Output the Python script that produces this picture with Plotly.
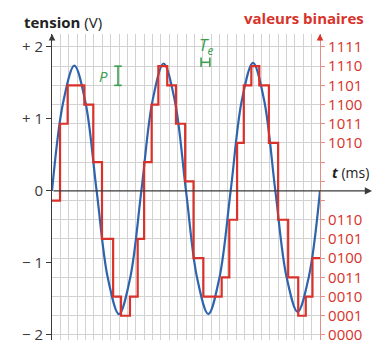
import plotly.graph_objects as go

# ---- data ----
# time axis in grid-column units (sampling grid), 3 periods over 32 columns
sine_t = [0, 1.33, 2.67, 4.0, 5.33, 6.67, 8.0, 9.33,
          10.67, 12.0, 13.33, 14.67, 16.0, 17.33, 18.67, 20.0,
          21.33, 22.67, 24.0, 25.33, 26.67, 28.0, 29.33, 30.67, 32.0]
sine_v = [0, 1.23, 1.74, 1.23, 0, -1.21, -1.71, -1.21,
          0, 1.25, 1.77, 1.25, 0, -1.21, -1.71, -1.2,
          0, 1.26, 1.78, 1.26, 0, -1.19, -1.68, -1.19, 0]

step_edges = [0, 0.96, 1.87, 3.86, 4.93, 5.97, 7.3, 8.24, 9.31, 10.23,
              11.0, 11.9, 12.7, 13.76, 14.8, 15.9, 16.9, 18.07, 20.26, 21.17,
              22.1, 22.9, 23.8, 24.75, 25.9, 27.0, 28.2, 29.4, 30.3, 31.1, 32]
step_codes = [7, 11, 13, 12, 9, 5, 2, 1, 2, 5,
              9, 12, 14, 13, 11, 8, 4, 2, 3, 6,
              10, 13, 14, 13, 10, 6, 3, 1, 2, 4]

left_tickvals = [-2, -1, 0, 1, 2]
left_ticktext = ["− 2", "− 1", "0", "+ 1", "+ 2"]

code_vals = list(range(16))
code_text = ["0000", "0001", "0010", "0011", "0100", "0101", "0110", "",
             "", "", "1010", "1011", "1100", "1101", "1110", "1111"]

RED = "#d8322a"
BLUE = "#2f64ad"
GREEN = "#3a9e4c"
GRID = "#d2d2d2"
DARK = "#3a3a3a"
FONT = "Open Sans"

VMIN, VMAX = -2.07, 2.18
# code k <-> voltage -2 + 4k/15
CMIN, CMAX = (VMIN + 2) * 3.75, (VMAX + 2) * 3.75

fig = go.Figure()

fig.add_trace(go.Scatter(
    x=sine_t, y=sine_v, mode="lines",
    line=dict(color=BLUE, width=2.2, shape="spline", smoothing=1.0),
    yaxis="y", hoverinfo="skip"))

fig.add_trace(go.Scatter(
    x=step_edges, y=step_codes + [step_codes[-1]], mode="lines",
    line=dict(color=RED, width=2.2, shape="hv"),
    yaxis="y2", hoverinfo="skip"))

fig.update_layout(
    width=384, height=345,
    margin=dict(l=52, r=64, t=34, b=1),
    paper_bgcolor="white", plot_bgcolor="white",
    showlegend=False,
    font=dict(family=FONT, size=14, color=DARK),
    xaxis=dict(range=[0, 32], showgrid=True, gridcolor=GRID, gridwidth=1,
               dtick=1, tick0=0, showticklabels=False, ticks="",
               zeroline=False, showline=False, fixedrange=True),
    yaxis=dict(range=[VMIN, VMAX], tickvals=left_tickvals, ticktext=left_ticktext,
               showgrid=False, zeroline=False, showline=True, linecolor=DARK,
               linewidth=1, ticks="outside", ticklen=5, tickcolor=DARK,
               ticklabeloverflow="allow",
               tickfont=dict(family=FONT, size=15, color=DARK)),
    yaxis2=dict(range=[CMIN, CMAX], overlaying="y", side="right",
                tickvals=code_vals, ticktext=code_text,
                showgrid=True, gridcolor=GRID, gridwidth=1,
                zeroline=False, showline=True, linecolor="#e38d86", linewidth=1.2,
                ticks="outside", ticklen=4, tickcolor="#e38d86",
                ticklabeloverflow="allow",
                tickfont=dict(family=FONT, size=15, color=RED)),
)

# time axis line with arrow (from left axis to beyond right axis)
fig.add_annotation(xref="paper", yref="y", x=(372 - 52) / 268, y=0,
                   ax=-320, ay=0, axref="pixel", ayref="pixel",
                   showarrow=True, arrowhead=2, arrowsize=1.2, arrowwidth=1.2,
                   arrowcolor=DARK, text="")
# left axis arrow
fig.add_annotation(xref="paper", yref="paper", x=0, y=1.0, ax=0, ay=8,
                   showarrow=True, arrowhead=2, arrowsize=1.1, arrowwidth=1.2,
                   arrowcolor=DARK, text="")
# right axis arrow
fig.add_annotation(xref="paper", yref="paper", x=1, y=1.0, ax=0, ay=8,
                   showarrow=True, arrowhead=2, arrowsize=1.1, arrowwidth=1.2,
                   arrowcolor=RED, text="")

# titles
fig.add_annotation(xref="paper", yref="paper", x=(22 - 52) / 268, y=(344 - 22) / 310,
                   xanchor="left", yanchor="middle", showarrow=False,
                   text="<b>tension</b> (V)", font=dict(family=FONT, size=15, color="#222"))
fig.add_annotation(xref="paper", yref="paper", x=(366 - 52) / 268, y=(344 - 18) / 310,
                   xanchor="right", yanchor="middle", showarrow=False,
                   text="<b>valeurs binaires</b>", font=dict(family=FONT, size=15, color=RED))
fig.add_annotation(xref="paper", yref="y", x=(330 - 52) / 268, y=0.26,
                   xanchor="left", yanchor="middle", showarrow=False,
                   text="<b><i>t</i></b> (ms)", font=dict(family=FONT, size=14, color="#222"))

# P (quantum) marker
fig.add_annotation(xref="x", yref="y2", x=6.2, y=13.5, showarrow=False,
                   text="<i>P</i>", font=dict(family=FONT, size=15, color=GREEN))
px_ = 7.88
for sh in [dict(x0=px_, x1=px_, y0=13, y1=14),
           dict(x0=px_ - 0.45, x1=px_ + 0.45, y0=13, y1=13),
           dict(x0=px_ - 0.45, x1=px_ + 0.45, y0=14, y1=14)]:
    fig.add_shape(type="line", xref="x", yref="y2", line=dict(color=GREEN, width=1.6), **sh)

# Te marker
fig.add_annotation(xref="x", yref="y2", x=18.4, y=15.1, showarrow=False,
                   text="<i>T<sub>e</sub></i>", font=dict(family=FONT, size=17, color=GREEN))
for sh in [dict(x0=17.8, x1=18.85, y0=14.2, y1=14.2),
           dict(x0=17.8, x1=17.8, y0=13.95, y1=14.45),
           dict(x0=18.85, x1=18.85, y0=13.95, y1=14.45)]:
    fig.add_shape(type="line", xref="x", yref="y2", line=dict(color=GREEN, width=1.6), **sh)

fig.write_html("out.html", config={"displayModeBar": False},
               post_script="document.body.style.margin='0';document.body.style.overflow='hidden';")
